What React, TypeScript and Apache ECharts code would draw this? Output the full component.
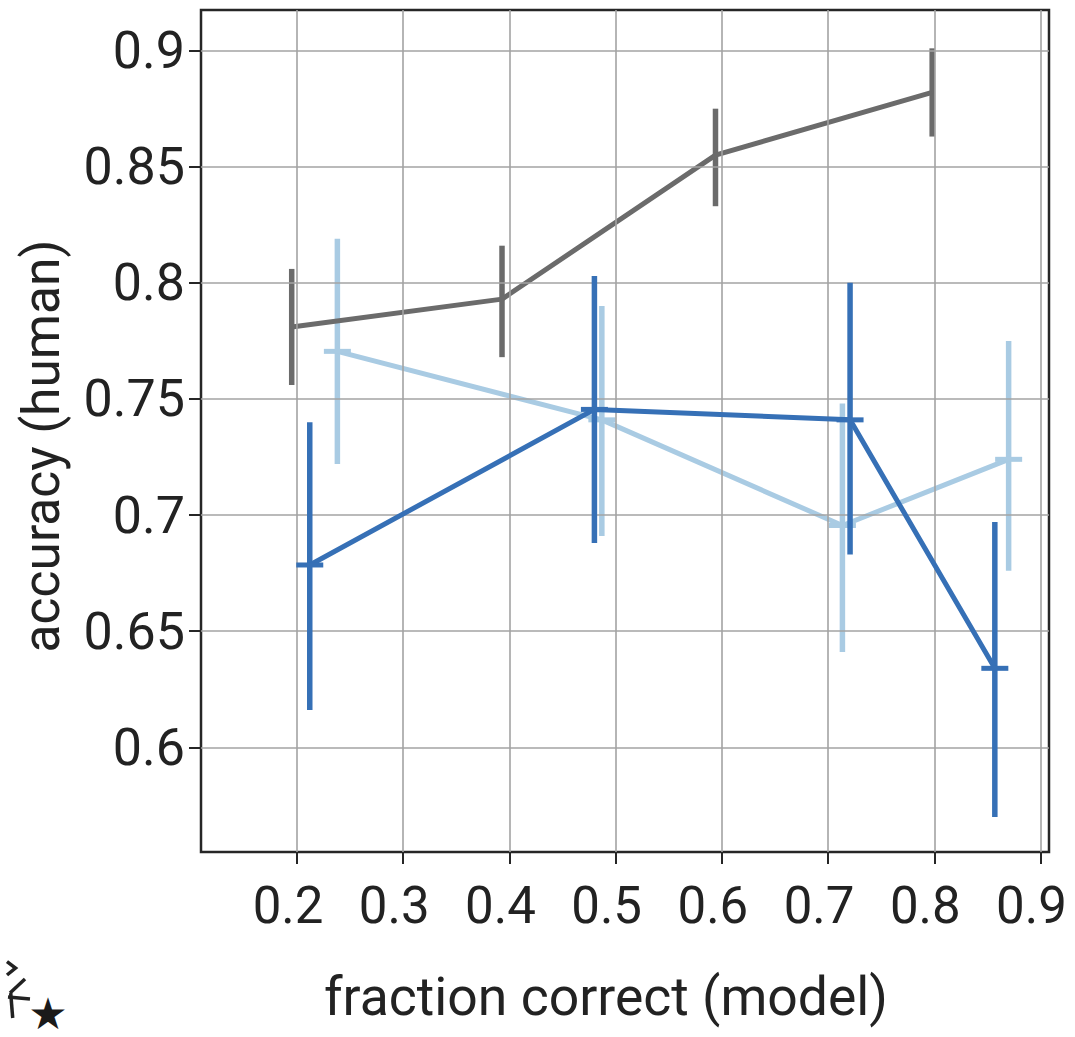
import React, { useEffect, useRef } from "react";
import * as echarts from "echarts";

const xTicks = [0.2, 0.3, 0.4, 0.5, 0.6, 0.7, 0.8, 0.9];
const yTicks = [0.6, 0.65, 0.7, 0.75, 0.8, 0.85, 0.9];

const grayX = [0.195, 0.393, 0.594, 0.798];
const grayY = [0.781, 0.793, 0.855, 0.882];
const grayLo = [0.756, 0.768, 0.833, 0.863];
const grayHi = [0.806, 0.816, 0.875, 0.901];

const lightX = [0.238, 0.487, 0.7135, 0.87];
const lightY = [0.7705, 0.741, 0.6955, 0.724];
const lightLo = [0.722, 0.691, 0.641, 0.676];
const lightHi = [0.819, 0.79, 0.748, 0.775];

const darkX = [0.212, 0.48, 0.7207, 0.857];
const darkY = [0.6785, 0.7455, 0.741, 0.634];
const darkLo = [0.616, 0.688, 0.683, 0.570];
const darkHi = [0.740, 0.803, 0.800, 0.697];

const GRAY = "#6b6b6b";
const LIGHT = "#a9cbe3";
const DARK = "#3670b6";
const FONT = "Roboto";

function errSeries(xs: number[], lo: number[], hi: number[], color: string, z: number) {
  return {
    type: "custom",
    z,
    clip: false,
    silent: true,
    data: xs.map((x, i) => [x, lo[i], hi[i]]),
    encode: { x: 0, y: [1, 2] },
    renderItem: (_p: any, api: any) => {
      const a = api.coord([api.value(0), api.value(1)]);
      const b = api.coord([api.value(0), api.value(2)]);
      return {
        type: "line",
        shape: { x1: a[0], y1: a[1], x2: b[0], y2: b[1] },
        style: { stroke: color, lineWidth: 5.5 },
      };
    },
  };
}

function lineSeries(xs: number[], ys: number[], color: string, z: number, marker: boolean) {
  return {
    type: "line",
    z,
    silent: true,
    data: xs.map((x, i) => [x, ys[i]]),
    symbol: marker ? "rect" : "none",
    symbolSize: [27, 5],
    showSymbol: marker,
    itemStyle: { color },
    lineStyle: { color, width: 5 },
  };
}

export default function App() {
  const ref = useRef<HTMLDivElement>(null);
  useEffect(() => {
    document.body.style.margin = "0";
    const chart = echarts.init(ref.current!, null, { renderer: "svg" });
    const option: any = {
      animation: false,
      backgroundColor: "#ffffff",
      grid: {
        left: 201,
        top: 10,
        width: 848,
        height: 842,
        show: true,
        borderColor: "#262626",
        borderWidth: 2.5,
        backgroundColor: "transparent",
      },
      xAxis: {
        type: "value",
        min: 0.1096,
        max: 0.908,
        name: "fraction correct (model)",
        nameLocation: "middle",
        nameGap: 117,
        nameTextStyle: {
          fontFamily: FONT,
          fontSize: 53.5,
          color: "#222",
          padding: [0, 38, 0, 0],
        },
        axisLine: { show: false },
        splitLine: { show: false },
        axisTick: {
          show: true,
          customValues: xTicks,
          length: 12,
          lineStyle: { color: "#262626", width: 2 },
        },
        axisLabel: {
          customValues: xTicks,
          fontFamily: FONT,
          fontSize: 51,
          color: "#222",
          margin: 28,
          padding: [0, 18, 0, 0],
          formatter: (v: number) => String(v),
        },
      },
      yAxis: {
        type: "value",
        min: 0.5549,
        max: 0.9175,
        name: "accuracy (human)",
        nameLocation: "middle",
        nameGap: 134,
        nameTextStyle: {
          fontFamily: FONT,
          fontSize: 51.5,
          color: "#222",
          padding: [0, 30, 0, 0],
        },
        axisLine: { show: false },
        splitLine: { show: false },
        axisTick: {
          show: true,
          customValues: yTicks,
          length: 12,
          lineStyle: { color: "#262626", width: 2 },
        },
        axisLabel: {
          customValues: yTicks,
          fontFamily: FONT,
          fontSize: 52,
          color: "#222",
          margin: 16,
          formatter: (v: number) => String(v),
        },
      },
      series: [
        {
          type: "line",
          z: 1,
          silent: true,
          data: [],
          markLine: {
            silent: true,
            symbol: "none",
            label: { show: false },
            animation: false,
            lineStyle: { color: "#a3a3a3", width: 1.6, type: "solid" },
            data: [
              ...xTicks.map((v) => ({ xAxis: v })),
              ...yTicks.map((v) => ({ yAxis: v })),
            ],
          },
        },
        errSeries(lightX, lightLo, lightHi, LIGHT, 3),
        lineSeries(lightX, lightY, LIGHT, 3, true),
        errSeries(grayX, grayLo, grayHi, GRAY, 4),
        lineSeries(grayX, grayY, GRAY, 4, false),
        errSeries(darkX, darkLo, darkHi, DARK, 5),
        lineSeries(darkX, darkY, DARK, 5, true),
      ],
      graphic: [
        {
          type: "polyline",
          shape: { points: [[7, 961.7], [15.5, 968], [7, 975]] },
          style: { stroke: "#222", lineWidth: 3.5, fill: "none" },
        },
        {
          type: "line",
          shape: { x1: 25, y1: 979, x2: 10, y2: 993 },
          style: { stroke: "#222", lineWidth: 3.5 },
        },
        {
          type: "line",
          shape: { x1: 8, y1: 997, x2: 30, y2: 999 },
          style: { stroke: "#222", lineWidth: 3.5 },
        },
        {
          type: "line",
          shape: { x1: 10.7, y1: 993, x2: 12.7, y2: 1018 },
          style: { stroke: "#222", lineWidth: 3.5 },
        },
        {
          type: "text",
          x: 48,
          y: 1013,
          style: {
            text: "★",
            fontSize: 44,
            fill: "#1a1a1a",
            align: "center",
            verticalAlign: "middle",
            fontFamily: "DejaVu Sans",
          },
        },
      ],
    };
    chart.setOption(option);
    return () => chart.dispose();
  }, []);
  return <div ref={ref} style={{ width: 1075, height: 1037 }} />;
}
